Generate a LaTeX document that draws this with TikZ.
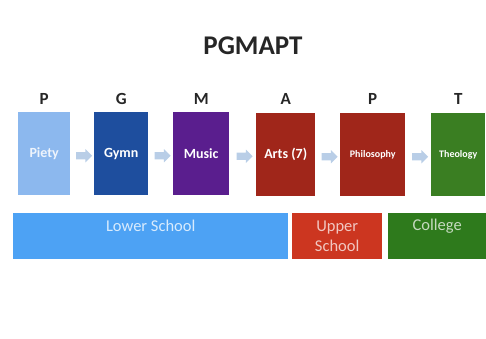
\documentclass[tikz,border=0pt]{standalone}
\usepackage{fontspec}
\setmainfont{Carlito}
\usetikzlibrary{shapes.arrows,calc}
\definecolor{cpiety}{HTML}{8CB8EE}
\definecolor{cgymn}{HTML}{1E4E9E}
\definecolor{cmusic}{HTML}{5A1E8E}
\definecolor{carts}{HTML}{A0261A}
\definecolor{ctheo}{HTML}{3A7E22}
\definecolor{clower}{HTML}{4DA2F4}
\definecolor{cupper}{HTML}{CC3620}
\definecolor{ccollege}{HTML}{2E7A1C}
\definecolor{carrow}{HTML}{B9CEE7}
\tikzset{
  stage/.style={draw=none, fill=#1, minimum height=83pt, inner sep=0pt, text=white, font=\bfseries, anchor=north west},
  letter/.style={font=\bfseries\fontsize{17}{17}\selectfont, text=black!85},
  flow/.style={single arrow, fill=carrow, draw=none, minimum height=16pt, minimum width=13pt, single arrow head extend=3pt, inner xsep=0pt, inner ysep=3.5pt},
  bar/.style={draw=none, fill=#1, minimum height=46pt, inner sep=0pt, anchor=north west},
  bartext/.style={font=\fontsize{16.5}{20}\selectfont, align=center}
}
\begin{document}
\begin{tikzpicture}[x=1pt,y=-1pt]
\useasboundingbox (0,0) rectangle (486,339);
\node[font=\bfseries\fontsize{27}{27}\selectfont, text=black!85] (title) at (253,46) {PGMAPT};
% stage boxes
\node[stage=cpiety, minimum width=52pt, text=white!85!cpiety] (piety) at (18,112) {\fontsize{14}{14}\selectfont Piety};
\node[stage=cgymn, minimum width=54pt] (gymn) at (94,112) {\fontsize{14}{14}\selectfont Gymn};
\node[stage=cmusic, minimum width=56pt] (music) at (173,112) {\fontsize{14}{14}\selectfont Music};
\node[stage=carts, minimum width=59pt] (arts) at (256,113) {\fontsize{14}{14}\selectfont Arts (7)};
\node[stage=carts, minimum width=65pt] (philo) at (340,113) {\fontsize{10}{10}\selectfont Philosophy};
\node[stage=ctheo, minimum width=54pt] (theo) at (431,113) {\fontsize{10}{10}\selectfont Theology};
% letters
\node[letter] (lp) at (piety.north |- 0,99) {P};
\node[letter] (lg) at (gymn.north |- 0,99) {G};
\node[letter] (lm) at (music.north |- 0,99) {M};
\node[letter] (la) at (arts.north |- 0,99) {A};
\node[letter] (lp2) at (philo.north |- 0,99) {P};
\node[letter] (lt) at (theo.north |- 0,99) {T};
% arrows
\node[flow] (a1) at ($(piety.east)!0.5!(gymn.west)+(0,2)$) {};
\node[flow] (a2) at ($(gymn.east)!0.5!(music.west)+(0,2)$) {};
\node[flow] (a3) at ($(music.east)!0.5!(arts.west)+(0,2)$) {};
\node[flow] (a4) at ($(arts.east)!0.5!(philo.west)+(0,2)$) {};
\node[flow] (a5) at ($(philo.east)!0.5!(theo.west)+(0,2)$) {};
% bars
\node[bar=clower, minimum width=275pt] (lower) at (13,213) {};
\node[bar=cupper, minimum width=90pt] (upper) at (292,213) {};
\node[bar=ccollege, minimum width=98pt] (college) at (388,213) {};
\node[bartext, text=white!78!clower] (lowert) at (lower.center |- 0,226) {Lower School};
\node[bartext, text=white!72!cupper] (uppert) at (upper.center |- 0,236) {Upper\\School};
\node[bartext, text=white!72!ccollege] (colleget) at (college.center |- 0,226) {College};
\end{tikzpicture}
\end{document}
